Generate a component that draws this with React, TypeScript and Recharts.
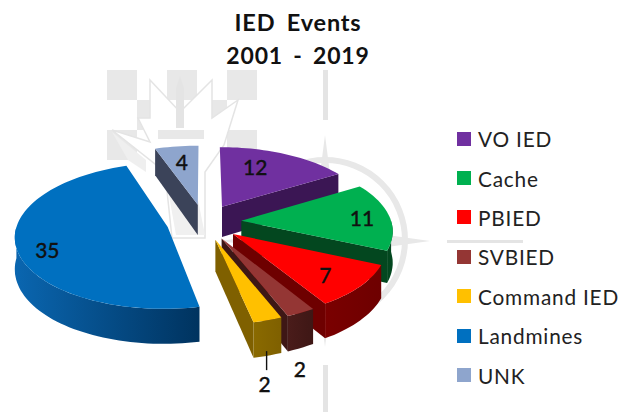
import React from "react";
import { PieChart, Pie, Legend } from "recharts";

const categories = ["VO IED", "Cache", "PBIED", "SVBIED", "Command IED", "Landmines", "UNK"];
const counts = [12, 11, 7, 2, 2, 35, 4];
const topColors = ["#7030A0", "#00B050", "#FF0000", "#943634", "#FFC000", "#0070C0", "#8EA5CD"];
const wallColors = ["#3B1654", "#03471F", "#6E0000", "#3E1715", "#7F6000", "#00335F", "#3B4359"];
const outerWallLight = ["#3B1654", "#03471F", "#7A0000", "#4A1C1A", "#8A6A00", "#0A66B0", "#3B4359"];
const labelRadii = [0.5, 0.8, 0.74, 1.0, 1.0, 0.8, 0.62];
const labelDrops = [-13, 0, 2, 49, 55, 6, -6];
const labelShifts = [0, 2, 0, -1, -3, 0, -2];

const W = 627;
const H = 412;
const TILT = 0.48;
const PERSPECTIVE = 0.12;
const EXPLODE = 0.25;
const DEPTH = 31;
const FONT = "Lato, 'Open Sans', sans-serif";

const chartData = categories.map((name, i) => ({ name, value: counts[i], fill: topColors[i] }));

const rad = (d: number) => (d * Math.PI) / 180;

function project(cx: number, cy: number, R: number, r: number, theta: number, beta: number, drop: number) {
  const X = r * Math.sin(rad(theta)) + EXPLODE * Math.sin(rad(beta));
  const Y = -(r * Math.cos(rad(theta)) + EXPLODE * Math.cos(rad(beta)));
  const s = 1 + PERSPECTIVE * Y;
  return [cx + X * R * s, cy + Y * R * TILT * s + drop * s];
}

const pathOf = (pts: number[][]) =>
  "M" + pts.map((p) => p[0].toFixed(1) + "," + p[1].toFixed(1)).join("L") + "Z";

function Slice3D(props: any) {
  const { cx, cy, outerRadius: R, startAngle, endAngle, payload } = props;
  const idx = categories.indexOf(payload?.name ?? props.name);
  const a = 90 - startAngle;
  const b = 90 - endAngle;
  const mid = (a + b) / 2;
  const arc = (from: number, to: number, drop: number) => {
    const out: number[][] = [];
    const n = Math.max(2, Math.ceil((to - from) / 2));
    for (let i = 0; i <= n; i++) out.push(project(cx, cy, R, 1, from + ((to - from) * i) / n, mid, drop));
    return out;
  };
  const apex = project(cx, cy, R, 0, 0, mid, 0);
  const apexLow = project(cx, cy, R, 0, 0, mid, DEPTH);
  const wall = wallColors[idx];
  const showStart = Math.sin(rad(a)) < 0;
  const showEnd = Math.sin(rad(b)) > 0;
  const from = Math.max(a, 90);
  const to = Math.min(b, 270);
  const gid = "wall-" + idx;
  return (
    <g>
      <defs>
        <linearGradient id={gid} x1="0" y1="0" x2="1" y2="0">
          <stop offset="0" stopColor={outerWallLight[idx]} />
          <stop offset="1" stopColor={wall} />
        </linearGradient>
      </defs>
      {showStart && (
        <path d={pathOf([apex, project(cx, cy, R, 1, a, mid, 0), project(cx, cy, R, 1, a, mid, DEPTH), apexLow])} fill={wall} />
      )}
      {showEnd && (
        <path d={pathOf([apex, project(cx, cy, R, 1, b, mid, 0), project(cx, cy, R, 1, b, mid, DEPTH), apexLow])} fill={wall} />
      )}
      {to > from && (
        <path d={pathOf([...arc(from, to, 0), ...arc(from, to, DEPTH).reverse()])} fill={`url(#${gid})`} />
      )}
      <path d={pathOf([apex, ...arc(a, b, 0)])} fill={topColors[idx]} />
    </g>
  );
}

function SliceLabel(props: any) {
  const { cx, cy, outerRadius: R, midAngle, index } = props;
  const theta = 90 - midAngle;
  const p = project(cx, cy, R, labelRadii[index], theta, theta, labelDrops[index]);
  const x = p[0] + labelShifts[index];
  return (
    <g>
      {categories[index] === "Command IED" && <line x1={x + 2} x2={x + 2} y1={p[1] - 32} y2={p[1] - 13} stroke="#111" strokeWidth={1.4} />}
      <text x={x} y={p[1]} textAnchor="middle" dominantBaseline="central" fontFamily={FONT} fontSize={21} fontWeight={500} stroke="#111" strokeWidth={0.3} fill="#111">
        {counts[index]}
      </text>
    </g>
  );
}

function LegendList() {
  return (
    <div style={{ fontFamily: FONT, fontSize: 20.8, color: "#222", letterSpacing: 0.8 }}>
      {categories.map((c, i) => (
        <div key={c} style={{ display: "flex", alignItems: "center", height: 39.4, whiteSpace: "nowrap" }}>
          <span style={{ width: 14, height: 14, background: topColors[i], marginRight: 7, flex: "none" }} />
          {c}
        </div>
      ))}
    </div>
  );
}

const checkerCells = [
  [0, 0], [2, 0], [4, 0], [1, 1], [3, 1], [0, 2], [2, 2], [4, 2],
];

function Watermark() {
  const g = "#E8E8E8";
  return (
    <svg width={W} height={H} style={{ position: "absolute", left: 0, top: 0 }}>
      {checkerCells.map(([c, r]) => (
        <rect key={c + "-" + r} x={107 + c * 30} y={70 + r * 30} width={30} height={30} fill={g} />
      ))}
      <polygon points="150,80 180,112 212,80 212,118 238,100 224,145 205,172 205,238 172,238 165,172 112,130 150,142 138,118 150,118" fill="#FFFFFF" stroke="#E4E4E4" strokeWidth={1.5} />
      <polygon points="180,76 184,88 184,128 176,128 176,88" fill="#E4E4E4" />
      <rect x={158} y={130} width={46} height={9} fill="#E8E8E8" />
      <polygon points="112,132 146,160 146,172 128,160" fill="#EFEFEF" />
      <polygon points="168,190 196,190 205,235 176,235" fill="#F0F0F0" />
      <circle cx={325} cy={240} r={80} fill="none" stroke="#E8E8E8" strokeWidth={6} />
      <polygon points="325,135 337,228 430,241 337,254 325,347 313,254 220,241 313,228" fill="#E8E8E8" />
      <rect x={323} y={70} width={5} height={50} fill="#E4E4E4" />
      <rect x={323} y={365} width={5} height={47} fill="#E4E4E4" />
      <rect x={447} y={240} width={76} height={3} fill="#E4E4E4" />
    </svg>
  );
}

export default function App() {
  return (
    <div style={{ position: "absolute", left: 0, top: 0, width: W, height: H, background: "#fff", overflow: "hidden" }}>
      <Watermark />
      <div style={{ position: "absolute", left: 0, top: 0 }}>
        <PieChart width={W} height={H} margin={{ top: 0, right: 0, bottom: 0, left: 0 }}>
          <Pie
            data={chartData}
            dataKey="value"
            nameKey="name"
            cx={204}
            cy={222}
            outerRadius={150}
            startAngle={90}
            endAngle={-270}
            stroke="none"
            isAnimationActive={false}
            shape={Slice3D}
            label={SliceLabel}
            labelLine={false}
          />
          <Legend content={LegendList as any} layout="vertical" align="right" verticalAlign="top" wrapperStyle={{ left: 457, top: 119, width: 170 }} />
          <text x={298} y={22} textAnchor="middle" dominantBaseline="central" fontFamily={FONT} fontSize={23.5} fontWeight={700} letterSpacing={0.8} wordSpacing={5} fill="#111">IED Events</text>
          <text x={298} y={55} textAnchor="middle" dominantBaseline="central" fontFamily={FONT} fontSize={23} fontWeight={700} letterSpacing={0.8} wordSpacing={4} fill="#111">2001 - 2019</text>
        </PieChart>
      </div>
    </div>
  );
}
